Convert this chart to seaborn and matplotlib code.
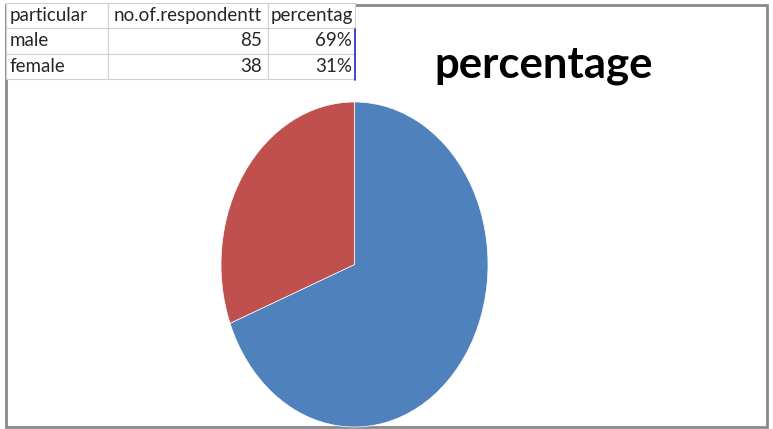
import matplotlib
matplotlib.use("Agg")
import matplotlib.pyplot as plt
import seaborn as sns
from matplotlib.patches import Rectangle

# ---- data ----
particulars = ["male", "female"]
respondents = [85, 38]
percent_labels = ["69%", "31%"]
header = ["particular", "no.of.respondentt", "percentag"]
title_text = "percentage"

sns.set_theme(style="white")
plt.rcParams["font.family"] = ["Lato", "DejaVu Sans"]

W, H = 773, 429
fig = plt.figure(figsize=(W / 100, H / 100), dpi=100)
fig.patch.set_facecolor("white")

def px_axes(x0, y0, x1, y1, **kw):
    # pixel coords with origin top-left
    return fig.add_axes([x0 / W, 1 - y1 / H, (x1 - x0) / W, (y1 - y0) / H], **kw)

# chart border
fig.patches.append(Rectangle((6 / W, 2 / H), (767 - 6) / W, (424 - 2) / H,
                             transform=fig.transFigure, fill=False,
                             edgecolor="#8a8a8a", linewidth=2, zorder=-1))

# pie (ellipse, stretched vertically)
colors = ["#4F81BD", "#C0504D"]
pax = px_axes(221, 102, 488, 427)
pax.pie(respondents, colors=colors, startangle=90, counterclock=False,
        wedgeprops=dict(edgecolor="white", linewidth=0.5))
pax.set_aspect("auto")
pax.set_xlim(-1, 1)
pax.set_ylim(-1, 1)
pax.axis("off")

# title
fig.text(544 / W, 1 - 65 / H, title_text, ha="center", va="center",
         fontsize=31.5, fontweight="bold", color="black")

# table
tax = px_axes(6, 3, 355, 79)
tax.axis("off")
cell_text = [header] + [[p, str(r), pc] for p, r, pc in zip(particulars, respondents, percent_labels)]
tbl = tax.table(cellText=cell_text, bbox=[0, 0, 1, 1],
                colWidths=[102 / 349, 160 / 349, 87 / 349])
tbl.auto_set_font_size(False)
tbl.set_zorder(5)
for (r, c), cell in tbl.get_celld().items():
    cell.set_edgecolor("#d0d0d0")
    cell.set_linewidth(0.8)
    cell.set_facecolor("white")
    cell.get_text().set_fontsize(13.5)
    cell.get_text().set_color("#262626")
    cell.PAD = 0.035
    if r > 0 and c > 0:
        cell.get_text().set_ha("right")
        cell._loc = "right"
    else:
        cell.get_text().set_ha("left")
        cell._loc = "left"

# blue right edge on data rows
fig.lines.append(plt.Line2D([354.5 / W, 354.5 / W], [1 - 29 / H, 1 - 80 / H],
                            transform=fig.transFigure, color="#2030c0", linewidth=1.2, zorder=10))

fig.savefig("out.png", dpi=100)
